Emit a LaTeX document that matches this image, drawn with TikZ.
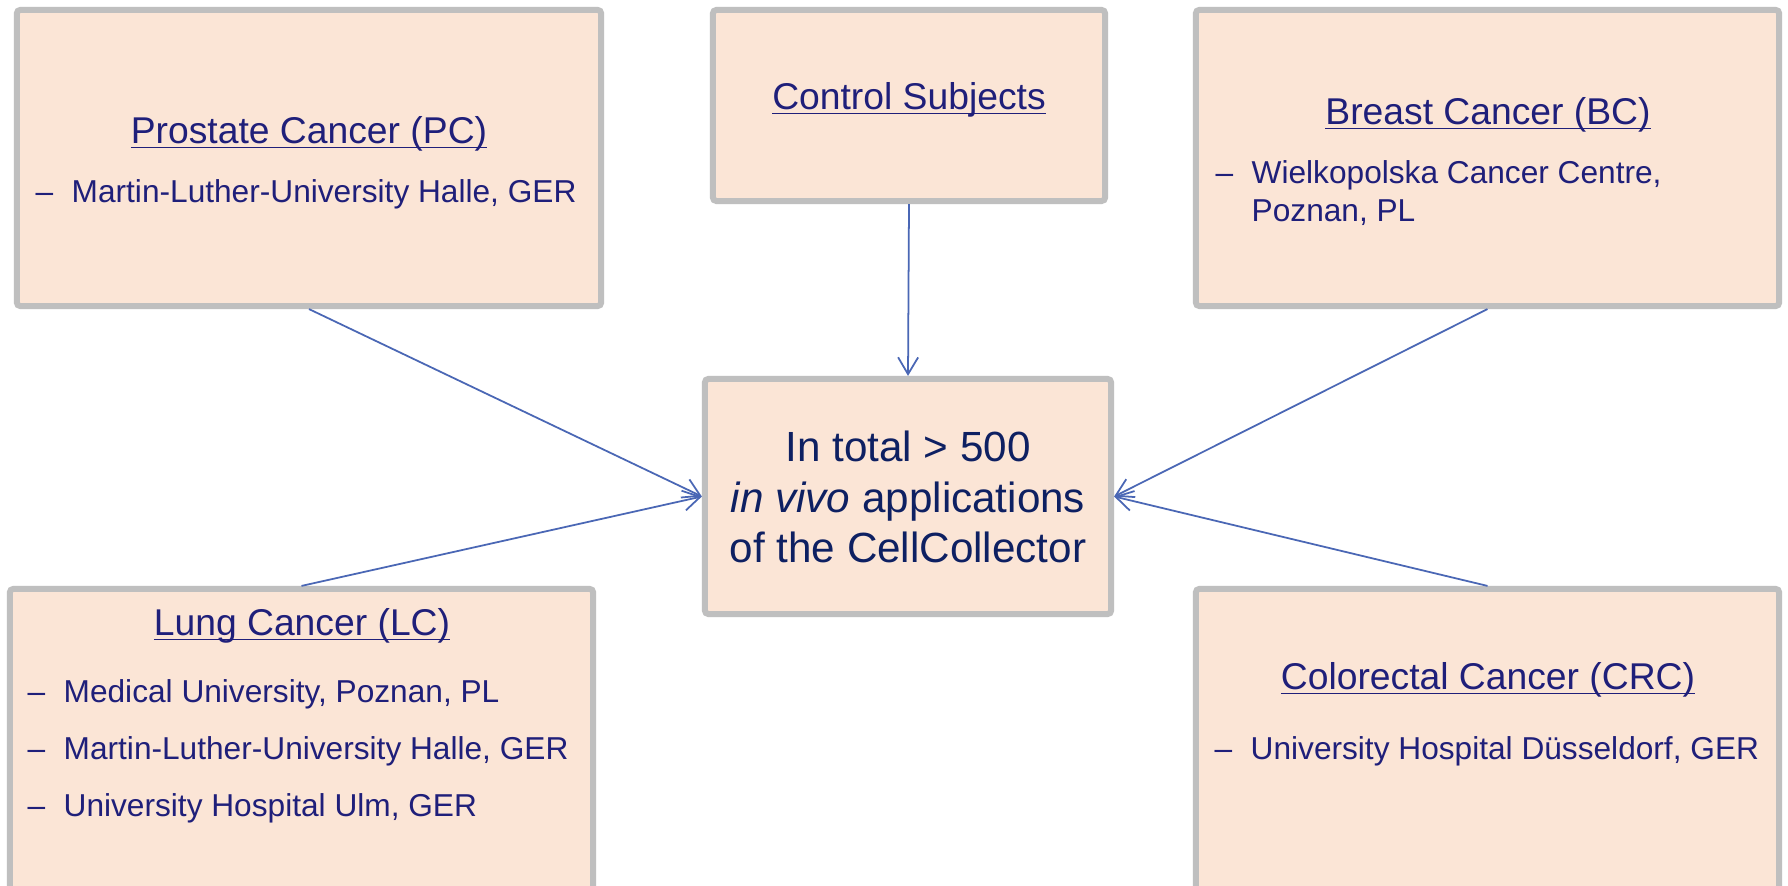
\documentclass[tikz,border=0pt]{standalone}
\usepackage{fontspec}
\setmainfont{Liberation Sans}
\usetikzlibrary{arrows.meta,calc}

\definecolor{boxfill}{HTML}{FBE5D6}
\definecolor{boxline}{HTML}{BFBFBF}
\definecolor{inkblue}{HTML}{1F1F7A}
\definecolor{darkink}{HTML}{0E2062}
\definecolor{linkblue}{HTML}{4A67B5}

\pgfdeclarehorizontalshading{slidebg}{100bp}{color(0bp)=(black!6); color(16bp)=(white); color(84bp)=(white); color(100bp)=(black!6)}

\newcommand\headline[1]{\setbox0\hbox{#1}\rlap{\rule[-1.2pt]{\wd0}{.45pt}}\box0}

\begin{document}
\begin{tikzpicture}[
  x=0.01cm, y=-0.01cm,
  box/.style={
    draw=boxline, fill=boxfill, line width=1.7pt,
    rounded corners=1pt, inner sep=0pt,
  },
  head/.style={anchor=base, inner sep=0pt, text=inkblue, font=\fontsize{10.6}{12.7}\selectfont},
  entry/.style={anchor=base west, inner sep=0pt, text=inkblue, font=\fontsize{9}{10.8}\selectfont},
  link/.style={draw=linkblue, line width=.5pt, -{Straight Barb[length=4.8pt,width=5.7pt]}},
]

  \useasboundingbox (0,0) rectangle (1788,886);
  \shade[shading=slidebg] (0,0) rectangle (1788,886);

  \node[box, minimum width=5.84cm, minimum height=2.96cm] (pc) at (309,158) {};
  \node[box, minimum width=3.92cm, minimum height=1.91cm] (ctrl) at (909,105.5) {};
  \node[box, minimum width=5.83cm, minimum height=2.96cm] (bc) at (1487.5,158) {};
  \node[box, minimum width=4.06cm, minimum height=2.35cm] (cell) at (908,496.5) {};
  \node[box, minimum width=5.83cm, minimum height=3.2cm] (lc) at (301.5,749) {};
  \node[box, minimum width=5.83cm, minimum height=3.2cm] (crc) at (1487.5,749) {};

  \node[head] (pc-head) at (309,144) {\headline{Prostate Cancer (PC)}};
  \node[entry] (pc-a) at (35,203) {\makebox[.36cm][l]{\textendash}Martin-Luther-University Halle, GER};

  \node[head] (ctrl-head) at (909,110) {\headline{Control Subjects}};

  \node[head] (bc-head) at (1488,125) {\headline{Breast Cancer (BC)}};
  \node[entry] (bc-a) at (1215,184) {\makebox[.36cm][l]{\textendash}Wielkopolska Cancer Centre,};
  \node[entry] (bc-b) at (1251,222) {Poznan, PL};

  \node[anchor=center, inner sep=0pt, align=center, text=darkink, font=\fontsize{12}{14.4}\selectfont] (cell-text) at (908,497)
    {In total > 500\\ \textit{in vivo} applications\\ of the CellCollector};

  \node[head] (lc-head) at (302,636) {\headline{Lung Cancer (LC)}};
  \node[entry] (lc-a) at (27,703) {\makebox[.36cm][l]{\textendash}Medical University, Poznan, PL};
  \node[entry] (lc-b) at (27,760) {\makebox[.36cm][l]{\textendash}Martin-Luther-University Halle, GER};
  \node[entry] (lc-c) at (27,817) {\makebox[.36cm][l]{\textendash}University Hospital Ulm, GER};

  \node[head] (crc-head) at (1488,690) {\headline{Colorectal Cancer (CRC)}};
  \node[entry] (crc-a) at (1214,760) {\makebox[.36cm][l]{\textendash}University Hospital Düsseldorf, GER};

  \draw[link] (pc.south) -- (cell.west);
  \draw[link] (ctrl.south) -- (cell.north);
  \draw[link] (bc.south) -- (cell.east);
  \draw[link] (lc.north) -- (cell.west);
  \draw[link] (crc.north) -- (cell.east);

\end{tikzpicture}
\end{document}
